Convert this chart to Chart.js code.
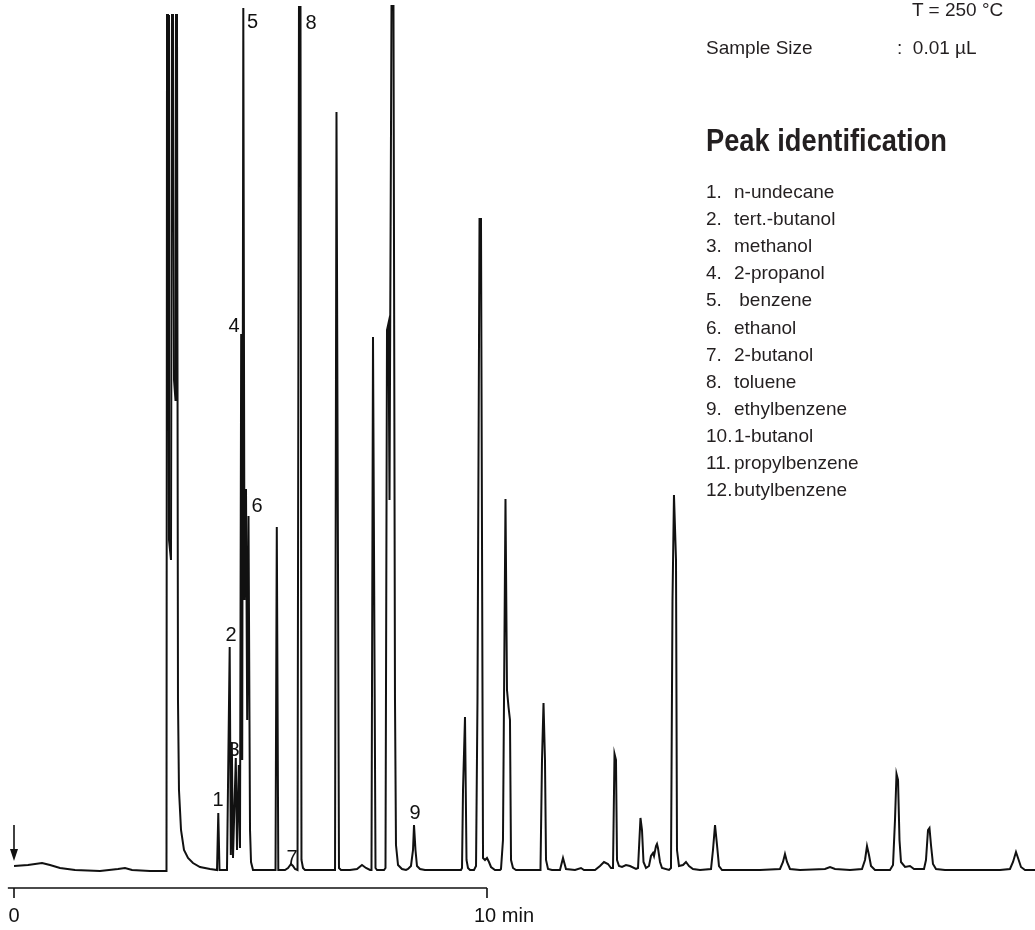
<!DOCTYPE html>
<html>
<head>
<meta charset="utf-8">
<title>Chromatogram</title>
<script src="https://cdn.jsdelivr.net/npm/chart.js@4.4.1/dist/chart.umd.min.js"></script>
<style>
  body { margin: 0; background: #fff; }
  #wrap { position: relative; width: 1035px; height: 930px; overflow: hidden; }
  #chartBox { position: absolute; left: 0; top: 0; width: 1035px; height: 930px; }
  .txt {
    position: absolute;
    font-family: "Liberation Sans Narrow", "Arial Narrow", "Liberation Sans", sans-serif;
    font-size: 19px;
    line-height: 20px;
    color: #231f20;
    white-space: pre;
  }
  .title {
    font-weight: bold;
    font-size: 31px;
    line-height: 32px;
    transform: scaleX(0.88);
    transform-origin: 0 0;
  }
</style>
</head>
<body>
<div id="wrap">
  <div id="chartBox"><canvas id="chromatogram"></canvas></div>
  <div id="panel"></div>
</div>
<script>
// retention time (min) and detector signal (arbitrary units)
const retentionTime = [
  0, 0.296, 0.592, 0.761, 0.973, 1.290, 1.818, 2.199, 2.347, 2.495, 2.875, 3.192,
  3.224, 3.235, 3.256, 3.277, 3.319, 3.340, 3.362, 3.383, 3.414, 3.425, 3.446, 3.467, 3.488, 3.531, 3.594, 3.679, 3.784, 3.932, 4.144, 4.292,
  4.319, 4.345, 4.482, 4.503, 4.560, 4.584, 4.605, 4.630, 4.689, 4.715, 4.753, 4.778, 4.803, 4.825, 4.848, 4.873, 4.905, 4.930, 4.958, 4.990, 5.011, 5.053,
  5.529, 5.556, 5.588, 5.729, 5.793, 5.856, 5.899, 5.941, 5.994, 6.025, 6.057, 6.078, 6.110, 6.152, 6.469, 6.787, 6.818, 6.871, 6.913,
  7.104, 7.252, 7.357, 7.442, 7.527, 7.558, 7.590, 7.643, 7.675, 7.823, 7.854, 7.886, 7.918, 7.939, 7.981, 8.023, 8.055, 8.076, 8.119, 8.203, 8.288,
  8.330, 8.393, 8.436, 8.457, 8.488, 8.520, 8.584, 8.689, 9.006, 9.450, 9.472, 9.493, 9.535, 9.567, 9.598, 9.641, 9.725, 9.768, 9.799, 9.842, 9.873, 9.916, 9.958, 10.000, 10.042, 10.085, 10.169,
  10.275, 10.296, 10.338, 10.391, 10.423, 10.455, 10.486, 10.508, 10.550, 10.613, 11.121, 11.131, 11.163, 11.195, 11.226, 11.248, 11.290, 11.374,
  11.543, 11.607, 11.670, 11.861, 11.987, 12.051, 12.284, 12.389, 12.474, 12.558, 12.622, 12.664, 12.696, 12.727, 12.749, 12.791, 12.854, 12.939, 13.023, 13.150, 13.193, 13.245, 13.277, 13.309, 13.362, 13.425, 13.467, 13.510, 13.531, 13.573, 13.594, 13.615, 13.658, 13.700, 13.848,
  13.890, 13.922, 13.953, 13.996, 14.017, 14.059, 14.144, 14.207, 14.271, 14.355, 14.503, 14.736, 14.778, 14.821, 14.863, 14.905, 14.969, 15.349, 15.772, 16.195, 16.258, 16.300, 16.343, 16.406, 16.618,
  17.146, 17.252, 17.358, 17.675, 17.928, 17.992, 18.034, 18.076, 18.119, 18.203, 18.520, 18.584, 18.626, 18.658, 18.690, 18.721, 18.753, 18.838, 18.943, 19.028, 19.239, 19.281, 19.324, 19.355, 19.387, 19.429, 19.493, 19.683, 20.000, 20.423, 20.846, 21.057, 21.121, 21.184, 21.227, 21.290, 21.375, 21.586
];
const detectorSignal = [
  4, 5, 7, 5, 2, 0, -1, 1, 2, 0, -1, -1,
  -1, 855, 855, 330, 310, 855, 855, 490, 470, 855, 855, 170, 80, 40, 20, 12, 7, 3, 1, 0,
  57, 0, 0, 0, 223, 15, 128, 12, 112, 20, 105, 22, 536, 110, 862, 270, 381, 150, 354, 40, 8, 0,
  0, 343, 0, 0, 2, 6, 4, 1, 0, 863, 863, 10, 2, 0, 0, 0, 758, 2, 0,
  0, 1, 5, 2, 0, 0, 533, 2, 0, 0, 2, 540, 547, 370, 864, 864, 170, 25, 5, 1, 0,
  1, 4, 20, 45, 20, 4, 1, 0, 0, 0, 2, 80, 153, 10, 2, 0, 0, 4, 170, 651, 651, 12, 10, 12, 8, 3, 0,
  0, 1, 30, 371, 180, 163, 150, 10, 2, 0, 0, 1, 110, 167, 110, 10, 1, 0,
  0, 12, 1, 0, 2, 0, 0, 4, 8, 6, 2, 2, 116, 110, 10, 4, 3, 5, 4, 1, 2, 52, 40, 8, 2, 4, 14, 17, 14, 24, 26, 22, 8, 2, 0,
  2, 270, 375, 310, 20, 4, 5, 8, 4, 1, 0, 1, 20, 45, 25, 4, 0, 0, 0, 1, 8, 16, 8, 1, 0,
  1, 3, 1, 0, 1, 10, 24, 15, 4, 0, 0, 5, 50, 96, 90, 30, 8, 3, 4, 1, 1, 10, 40, 42, 25, 6, 1, 0, 0, 0, 0, 1, 8, 18, 12, 3, 0, 0
];

// peak numbers written next to the trace
const peakLabels = ['1', '2', '3', '4', '5', '6', '7', '8', '9'];
const peakLabelTime = [4.313, 4.588, 4.651, 4.651, 5.042, 5.137, 5.877, 6.279, 8.478];
const peakLabelSignal = [70, 235, 120, 544, 848, 364, 12, 847, 57];

const peakNames = ['n-undecane', 'tert.-butanol', 'methanol', '2-propanol', ' benzene', 'ethanol',
  '2-butanol', 'toluene', 'ethylbenzene', '1-butanol', 'propylbenzene', 'butylbenzene'];

// time axis
const axisTicks = [0, 10];
const axisTickLabels = ['0', '10 min'];
const axisStart = -0.13;
const axisSignal = -18;

// injection arrow
const injectionTime = 0;
const arrowTop = 45;
const arrowTip = 9;

const points = retentionTime.map((t, i) => ({ x: t, y: detectorSignal[i] }));

const annotations = {
    id: 'annotations',
    afterDatasetsDraw(chart) {
        const { ctx, scales: { x, y } } = chart;
        ctx.save();
        ctx.fillStyle = '#111';
        ctx.strokeStyle = '#111';

        // peak numbers
        ctx.font = '20px "Liberation Sans", Arial, sans-serif';
        ctx.textAlign = 'center';
        ctx.textBaseline = 'middle';
        peakLabels.forEach((lbl, i) => {
            ctx.fillText(lbl, x.getPixelForValue(peakLabelTime[i]), y.getPixelForValue(peakLabelSignal[i]));
        });

        // injection arrow
        const ax = x.getPixelForValue(injectionTime);
        const top = y.getPixelForValue(arrowTop);
        const tip = y.getPixelForValue(arrowTip);
        ctx.lineWidth = 1.6;
        ctx.beginPath();
        ctx.moveTo(ax, top);
        ctx.lineTo(ax, tip - 8);
        ctx.stroke();
        ctx.beginPath();
        ctx.moveTo(ax - 4, tip - 12);
        ctx.lineTo(ax + 4, tip - 12);
        ctx.lineTo(ax, tip);
        ctx.closePath();
        ctx.fill();

        // time bar
        const ay = y.getPixelForValue(axisSignal);
        ctx.lineWidth = 1.6;
        ctx.beginPath();
        ctx.moveTo(x.getPixelForValue(axisStart), ay);
        ctx.lineTo(x.getPixelForValue(axisTicks[axisTicks.length - 1]), ay);
        axisTicks.forEach(t => {
            const px = x.getPixelForValue(t);
            ctx.moveTo(px, ay);
            ctx.lineTo(px, ay + 10);
        });
        ctx.stroke();
        ctx.font = '20px "Liberation Sans", Arial, sans-serif';
        axisTickLabels.forEach((lbl, i) => {
            const px = x.getPixelForValue(axisTicks[i]);
            if (i === 0) {
                ctx.textAlign = 'center';
                ctx.fillText(lbl, px, ay + 28);
            } else {
                ctx.textAlign = 'left';
                ctx.fillText(lbl, px - 13, ay + 28);
            }
        });
        ctx.restore();
    }
};

new Chart(document.getElementById('chromatogram'), {
    type: 'line',
    data: {
        datasets: [{
            data: points,
            borderColor: '#111',
            borderWidth: 2,
            pointRadius: 0,
            tension: 0,
            fill: false
        }]
    },
    options: {
        responsive: true,
        maintainAspectRatio: false,
        animation: false,
        layout: { padding: { left: 14, right: 0, top: 0, bottom: 50 } },
        plugins: { legend: { display: false }, tooltip: { enabled: false } },
        scales: {
            x: { type: 'linear', min: 0, max: 21.586, display: false },
            y: { type: 'linear', min: -10, max: 870, display: false }
        }
    },
    plugins: [annotations]
});

// info panel on the right
const panel = document.getElementById('panel');
function addText(str, left, top, cls) {
    const el = document.createElement('div');
    el.className = 'txt' + (cls ? ' ' + cls : '');
    el.textContent = str;
    el.style.left = left + 'px';
    el.style.top = top + 'px';
    panel.appendChild(el);
}
addText('T = 250 °C', 912, 0);
addText('Sample Size', 706, 38);
addText(':  0.01 µL', 897, 38);
addText('Peak identification', 706, 125, 'title');
peakNames.forEach((name, i) => {
    const top = 182 + i * 27.1;
    addText((i + 1) + '.', 706, top);
    addText(name, 734, top);
});
</script>
</body>
</html>
